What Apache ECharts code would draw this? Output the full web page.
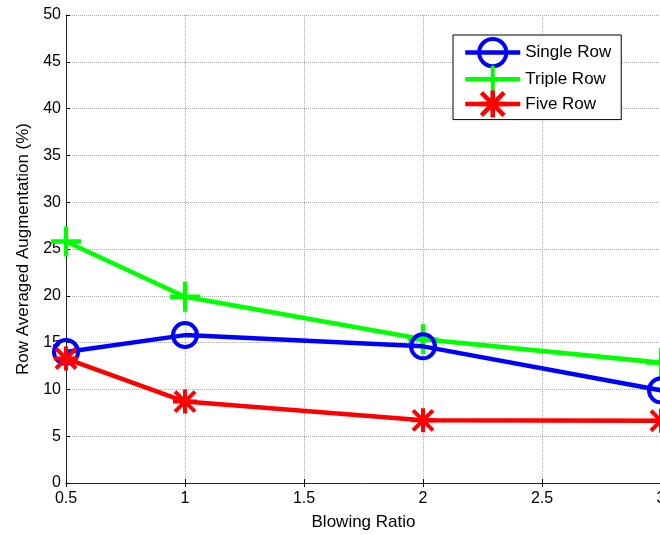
<!DOCTYPE html>
<html>
<head>
<meta charset="utf-8">
<script src="https://cdn.jsdelivr.net/npm/echarts@6/dist/echarts.min.js"></script>
<style>
  html, body { margin: 0; padding: 0; background: #fff; }
  #chart { width: 660px; height: 535px; }
</style>
</head>
<body>
<div id="chart"></div>
<script>
    // 数据
    var blowingRatio = [0.5, 1, 2, 3];
    var singleRow = [14.0, 15.8, 14.6, 9.9];
    var tripleRow = [25.8, 19.9, 15.35, 12.85];
    var fiveRow = [13.3, 8.7, 6.7, 6.65];
    var seriesNames = ['Single Row', 'Triple Row', 'Five Row'];

    var FONT = '"Liberation Sans", Arial, sans-serif';
    var PLUS = 'path://M12 0H16V12H28V16H16V28H12V16H0V12H12Z';
    var STAR = 'path://M10 0H14V24H10Z M0 10H24V14H0Z M3.4 0.6L23.4 20.6L20.6 23.4L0.6 3.4Z M20.6 0.6L23.4 3.4L3.4 23.4L0.6 20.6Z';

    function pairs(ys){
        return ys.map(function(y, i){ return [blowingRatio[i], y]; });
    }

    var myChart = echarts.init(document.getElementById('chart'));
    var option = {
        animation: false,
        textStyle: { fontFamily: FONT },
        grid: { left: 66, right: -1, top: 15, bottom: 52, outerBoundsMode: 'none' },
        legend: {
            orient: 'vertical',
            left: 453,
            top: 35,
            padding: [2, 10, 2, 10],
            itemWidth: 55,
            itemHeight: 34,
            itemGap: -2.5,
            backgroundColor: '#fff',
            borderColor: '#000',
            borderWidth: 1,
            borderRadius: 0,
            lineStyle: { width: 4.5 },
            textStyle: { fontFamily: FONT, fontSize: 17, color: '#000' },
            data: [
                { name: seriesNames[0], itemStyle: { borderWidth: 4 } },
                { name: seriesNames[1] },
                { name: seriesNames[2] }
            ]
        },
        xAxis: [{
            type: 'value',
            min: 0.5,
            max: 3,
            interval: 0.5,
            name: 'Blowing Ratio',
            nameLocation: 'middle',
            nameGap: 31,
            nameTextStyle: { fontFamily: FONT, fontSize: 17, color: '#000' },
            axisLine: { show: true, onZero: false, lineStyle: { color: '#262626', width: 1 } },
            axisTick: { show: true, inside: true, length: 4, lineStyle: { color: '#000' } },
            axisLabel: { fontFamily: FONT, fontSize: 16, color: '#000', margin: 8 },
            splitLine: { show: true, lineStyle: { color: '#aaa', type: 'dotted', width: 1 } }
        }, {
            type: 'value',
            position: 'top',
            min: 0.5,
            max: 3,
            interval: 0.5,
            axisLine: { show: false },
            axisTick: { show: true, inside: true, length: 4, lineStyle: { color: '#000' } },
            axisLabel: { show: false },
            splitLine: { show: false }
        }],
        yAxis: {
            type: 'value',
            min: 0,
            max: 50,
            interval: 5,
            name: 'Row Averaged Augmentation (%)',
            nameLocation: 'middle',
            nameGap: 34,
            nameTextStyle: { fontFamily: FONT, fontSize: 17, color: '#000' },
            axisLine: { show: true, onZero: false, lineStyle: { color: '#262626', width: 1 } },
            axisTick: { show: true, inside: true, length: 4, lineStyle: { color: '#000' } },
            axisLabel: { fontFamily: FONT, fontSize: 16, color: '#000', margin: 5 },
            splitLine: { show: true, lineStyle: { color: '#aaa', type: 'dotted', width: 1 } }
        },
        series: [{
            name: seriesNames[0],
            type: 'line',
            data: pairs(singleRow),
            clip: false,
            symbol: 'circle',
            symbolSize: 24,
            lineStyle: { color: '#0000ff', width: 4.5 },
            itemStyle: { color: 'rgba(0,0,0,0)', borderColor: '#0000ff', borderWidth: 4 },
            emphasis: { disabled: true },
            z: 3
        }, {
            name: seriesNames[1],
            type: 'line',
            data: pairs(tripleRow),
            clip: false,
            symbol: PLUS,
            symbolSize: 30,
            lineStyle: { color: '#00ff00', width: 4.5 },
            itemStyle: { color: '#00ff00' },
            emphasis: { disabled: true },
            z: 2
        }, {
            name: seriesNames[2],
            type: 'line',
            data: pairs(fiveRow),
            clip: false,
            symbol: STAR,
            symbolSize: 24,
            lineStyle: { color: '#ff0000', width: 4.5 },
            itemStyle: { color: '#ff0000' },
            emphasis: { disabled: true },
            z: 4
        }]
    };
    myChart.setOption(option);
</script>
</body>
</html>
